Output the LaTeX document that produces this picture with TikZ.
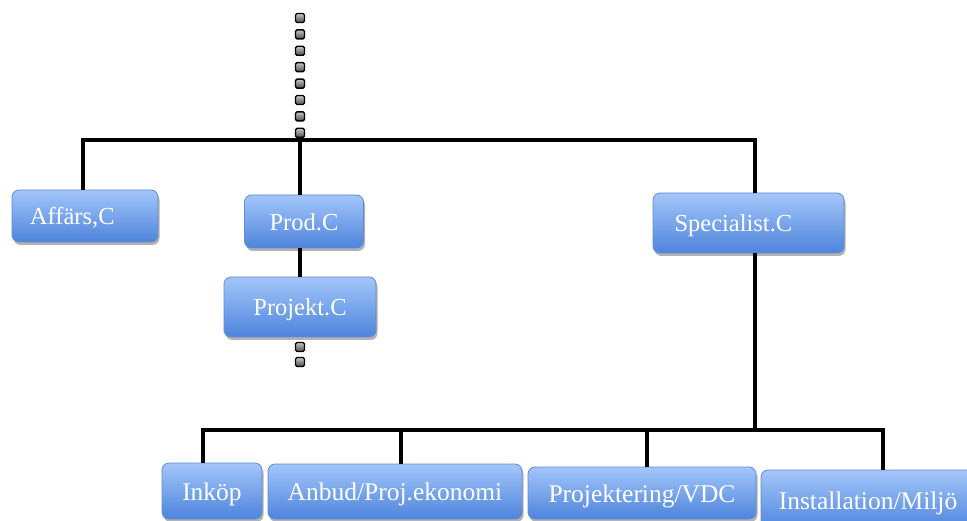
\documentclass[tikz,border=0pt]{standalone}
\usepackage{fontspec}
\setmainfont{Liberation Serif}
\usetikzlibrary{shadows}
\definecolor{boxtop}{RGB}{163,198,250}
\definecolor{boxbot}{RGB}{78,132,220}
\definecolor{boxborder}{RGB}{96,140,212}
\tikzset{
  box/.style={rounded corners=7pt, draw=boxborder, line width=0.8pt,
    top color=boxtop, bottom color=boxbot, text=white,
    font=\fontsize{24.5}{24.5}\selectfont, text height=20pt, text depth=2pt,
    inner sep=0pt,
    drop shadow={shadow xshift=1.5pt, shadow yshift=-3pt, opacity=0.3, fill=black}},
  lowbox/.style={box, font=\fontsize{25.5}{25.5}\selectfont},
  conn/.style={line width=4.5pt, black, line cap=butt},
  sq/.style={draw=black, line width=1.4pt, rounded corners=1.5pt,
    top color=gray!45, bottom color=black!70, minimum size=9pt, inner sep=0pt}
}
\begin{document}
\begin{tikzpicture}[x=1pt,y=-1pt]
\clip (0,0) rectangle (967,521);
\fill[white] (0,0) rectangle (967,521);
\coordinate (hub) at (300,140);
\coordinate (bh) at (755,430);
% boxes
\node[box, minimum width=146pt, minimum height=52pt, text width=110pt, align=left] (aff) at (85,216) {Affärs,C};
\node[box, minimum width=119pt, minimum height=53pt] (prod) at (304,221.5) {Prod.C};
\node[box, minimum width=152pt, minimum height=60pt] (proj) at (300,307) {Projekt.C};
\node[box, minimum width=191pt, minimum height=60pt, text width=148pt, align=left] (spec) at (748.5,223) {Specialist.C};
\node[lowbox, minimum width=100pt, minimum height=56pt] (ink) at (212,491) {Inköp};
\node[lowbox, minimum width=254pt, minimum height=55pt] (anb) at (395,491.5) {Anbud/Proj.ekonomi};
\node[lowbox, minimum width=228pt, minimum height=52pt] (pvdc) at (642,493) {Projektering/VDC};
\node[lowbox, minimum width=214pt, minimum height=60pt] (inst) at (868,500) {Installation/Miljö};
% connectors
\draw[conn] ([xshift=-2pt]aff.north) |- (hub) -| ([xshift=6.5pt]spec.north);
\draw[conn] (hub) -- (prod.north -| hub);
\draw[conn] (prod.south -| hub) -- (proj.north -| hub);
\draw[conn] ([xshift=6.5pt]spec.south) -- (bh);
\draw[conn] ([xshift=-9pt]ink.north) |- (bh) -| ([xshift=15pt]inst.north);
\draw[conn] ([xshift=6pt]anb.north) -- ([xshift=6pt]anb.north |- bh);
\draw[conn] ([xshift=5pt]pvdc.north) -- ([xshift=5pt]pvdc.north |- bh);
% dotted squares
\foreach \i in {0,...,7} {
  \node[sq] (d\i) at (300,{18+16.4*\i}) {};
}
\node[sq] (e1) at (300,347) {};
\node[sq] (e2) at (300,362) {};
\end{tikzpicture}
\end{document}
